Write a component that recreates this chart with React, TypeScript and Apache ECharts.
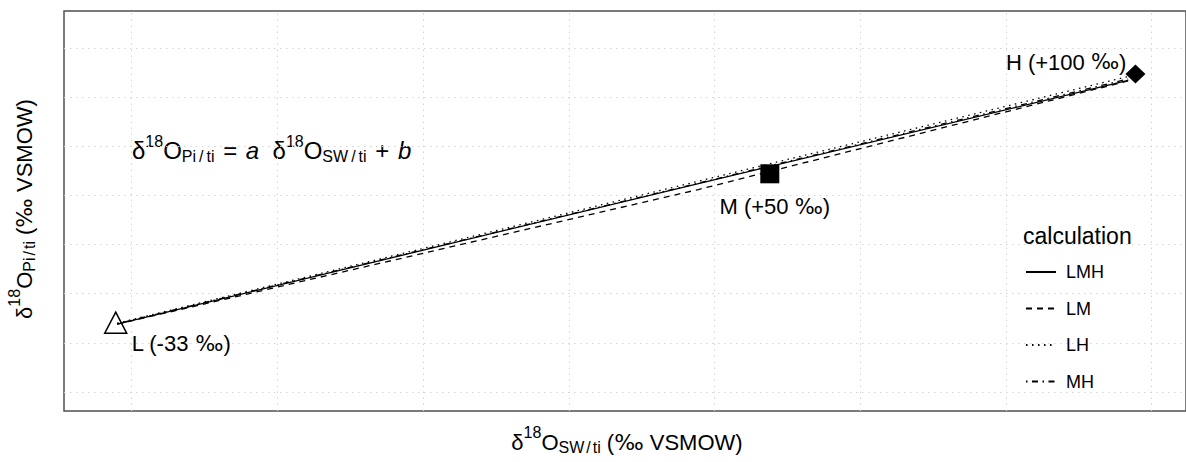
import React, { useEffect, useRef } from "react";
import * as echarts from "echarts";

// ---- data ----
const xGridValues = [0, 1, 2, 3, 4, 5, 6, 7];
const yGridValues = [0, 1, 2, 3, 4, 5, 6, 7];
const xRange = [-0.465, 7.237];
const yRange = [-0.387, 7.753];

const pointNames = ["L", "M", "H"];
const pointLabels = ["L (-33 ‰)", "M (+50 ‰)", "H (+100 ‰)"];
const pointX = [-0.11, 4.38, 6.89];
const pointY = [1.41, 4.44, 6.47];

const lineX = [-0.1, 3.89, 6.84];
const lineLMH = [1.38, 4.24, 6.34];
const lineLM = [1.38, 4.12, 6.33];
const lineLH = [1.4, 4.29, 6.42];
const lineMH = [1.39, 4.25, 6.37];
const seriesNames = ["LMH", "LM", "LH", "MH"];

const legendTitle = "calculation";

// ---- styles ----
const F = "Liberation Sans";
const LINE_H = 34;

function richSet(main: number, script: number, supShift: number, subShift: number, slashPad: number) {
  const base = { fontFamily: F, fill: "#000", color: "#000", lineHeight: LINE_H };
  return {
    m: { ...base, fontSize: main },
    op: { ...base, fontSize: main, padding: [0, 2, 0, 2] },
    i: { ...base, fontSize: main, fontStyle: "italic" },
    sup: { ...base, fontSize: script, padding: [0, 0, 2 * supShift, 0] },
    sub: { ...base, fontSize: script, padding: [2 * subShift, 0, 0, 0] },
    subs: { ...base, fontSize: script, padding: [2 * subShift, slashPad, 0, slashPad] },
    pm: { ...base, fontSize: main, fontFamily: "DejaVu Sans" },
  };
}

const formulaText =
  "{m|δ}{sup|18}{m|O}{sub|Pi}{subs|/}{sub|ti}{op| = }{i|a}{m|  δ}{sup|18}{m|O}{sub|SW}{subs|/}{sub|ti}{op| + }{i|b}";
const xTitleText = "{m|δ}{sup|18}{m|O}{sub|SW}{subs|/}{sub|ti}{m| (}{pm|‰}{m| VSMOW)}";
const yTitleText = "{m|δ}{sup|18}{m|O}{sub|Pi}{subs|/}{sub|ti}{m| (}{pm|‰}{m| VSMOW)}";

const lineTypes: any[] = ["solid", [6, 5], [1.5, 4.5], [1.5, 4.5, 6, 4.5]];
const lineValues = [lineLMH, lineLM, lineLH, lineMH];

const symbolDefs = [
  { symbol: "triangle", size: [22, 21], fill: "rgba(0,0,0,0)", align: "left", offset: [16, 21] },
  { symbol: "rect", size: [19, 19], fill: "#000", align: "center", offset: [5, 33] },
  { symbol: "diamond", size: [20, 19], fill: "#000", align: "right", offset: [-9, -12] },
];

function labelRich(s: string) {
  return "{t|" + s.replace("‰", "}{pm|‰}{t|") + "}";
}

export default function App() {
  const ref = useRef<HTMLDivElement>(null);
  useEffect(() => {
    const chart = echarts.init(ref.current!, null, { renderer: "svg" });

    const lineSeries = seriesNames.map((name, k) => ({
      type: "line",
      name,
      data: lineX.map((x, i) => [x, lineValues[k][i]]),
      symbol: "none",
      showSymbol: false,
      z: 3,
      lineStyle: { color: "#000", width: 1.3, type: lineTypes[k], cap: "butt", opacity: 1 },
      itemStyle: { color: "#000" },
      silent: true,
    }));

    const scatterData = pointNames.map((n, i) => ({
      name: n,
      value: [pointX[i], pointY[i]],
      symbol: symbolDefs[i].symbol,
      symbolSize: symbolDefs[i].size,
      itemStyle: {
        color: symbolDefs[i].fill,
        borderColor: "#000",
        borderWidth: i === 0 ? 1.5 : 0,
        opacity: 1,
      },
      label: {
        show: true,
        position: "inside",
        align: symbolDefs[i].align,
        verticalAlign: "middle",
        offset: symbolDefs[i].offset,
        formatter: labelRich(pointLabels[i]),
        rich: {
          t: { fontFamily: F, fontSize: 22, color: "#000" },
          pm: { fontFamily: "DejaVu Sans", fontSize: 21, color: "#000" },
        },
      },
    }));

    const option: any = {
      animation: false,
      backgroundColor: "#fff",
      grid: {
        left: 64,
        top: 11,
        width: 1126,
        height: 400,
        show: true,
        borderColor: "#505050",
        borderWidth: 1.5,
        backgroundColor: "#fff",
      },
      xAxis: {
        type: "value",
        min: xRange[0],
        max: xRange[1],
        axisLine: { show: false },
        axisTick: { show: false },
        axisLabel: { show: false },
        splitLine: { show: false },
      },
      yAxis: {
        type: "value",
        min: yRange[0],
        max: yRange[1],
        axisLine: { show: false },
        axisTick: { show: false },
        axisLabel: { show: false },
        splitLine: { show: false },
      },
      legend: {
        data: seriesNames,
        orient: "vertical",
        left: 1025,
        top: 262,
        padding: 0,
        itemWidth: 30,
        itemHeight: 14,
        itemGap: 16.5,
        itemStyle: { opacity: 0 },
        textStyle: {
          fontFamily: F,
          fontSize: 18,
          color: "#000",
          lineHeight: 20,
          padding: [0, 0, 0, 5],
        },
        selectedMode: false,
      },
      graphic: [
        {
          type: "text",
          x: 132,
          y: 150,
          silent: true,
          style: {
            text: formulaText,
            rich: richSet(24, 16, 9, 6, 3),
            align: "left",
            textAlign: "left",
            verticalAlign: "middle",
            textVerticalAlign: "middle",
          },
        },
        {
          type: "text",
          x: 627,
          y: 442,
          silent: true,
          style: {
            text: xTitleText,
            rich: richSet(22, 16, 10, 5, 2),
            align: "center",
            textAlign: "center",
            verticalAlign: "middle",
            textVerticalAlign: "middle",
          },
        },
        {
          type: "text",
          x: 24,
          y: 209,
          rotation: Math.PI / 2,
          silent: true,
          style: {
            text: yTitleText,
            rich: richSet(22, 16, 10, 5, 2),
            align: "center",
            textAlign: "center",
            verticalAlign: "middle",
            textVerticalAlign: "middle",
          },
        },
        {
          type: "text",
          x: 1023,
          y: 236,
          silent: true,
          style: {
            text: legendTitle,
            fontFamily: F,
            fontSize: 23,
            fill: "#000",
            align: "left",
            textAlign: "left",
            verticalAlign: "middle",
            textVerticalAlign: "middle",
          },
        },
      ],
      series: [
        {
          type: "line",
          name: "grid",
          data: [],
          silent: true,
          z: 1,
          markLine: {
            silent: true,
            z: 1,
            symbol: ["none", "none"],
            label: { show: false },
            emphasis: { disabled: true },
            lineStyle: { color: "#d4d4d4", width: 1, type: [1.5, 4.5] },
            data: [
              ...xGridValues.map((v) => ({ xAxis: v })),
              ...yGridValues.map((v) => ({ yAxis: v })),
            ],
          },
        },
        ...lineSeries,
        {
          type: "scatter",
          name: "points",
          z: 4,
          silent: true,
          data: scatterData,
        },
      ],
    };

    chart.setOption(option);
    return () => chart.dispose();
  }, []);

  return (
    <div
      ref={ref}
      style={{ position: "fixed", left: 0, top: 0, width: 1186, height: 462, background: "#fff" }}
    />
  );
}
